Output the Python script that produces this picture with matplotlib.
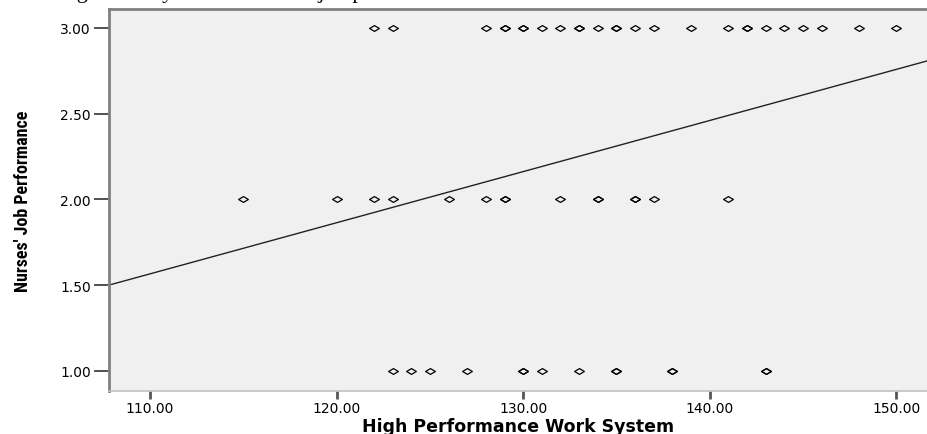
import numpy as np
import matplotlib.pyplot as plt
from matplotlib.path import Path
from matplotlib import font_manager

# HPWS scores per job performance level (repeats = overlapping points)
hpws_high = [122, 123, 128, 129, 129, 130, 130, 131, 132, 133, 133, 134, 135, 135,
             136, 137, 139, 141, 142, 142, 143, 144, 145, 146, 148, 150]
hpws_mid = [115, 120, 122, 123, 126, 128, 129, 129, 132, 134, 134, 136, 136, 137, 141]
hpws_low = [123, 124, 125, 127, 130, 130, 131, 133, 135, 135, 138, 138, 143, 143]

perf_high = [3.0] * len(hpws_high)
perf_mid = [2.0] * len(hpws_mid)
perf_low = [1.0] * len(hpws_low)

# fit line
fit_intercept = -1.712
fit_slope = 0.0298

x_ticks = [110, 120, 130, 140, 150]
y_ticks = [1.0, 1.5, 2.0, 2.5, 3.0]

names = {f.name for f in font_manager.fontManager.ttflist}
narrow = [n for n in ['Liberation Sans Narrow', 'DejaVu Sans Condensed', 'Roboto Condensed']
          if n in names]

W, H = 928, 435
fig = plt.figure(figsize=(W / 100, H / 100), dpi=100)
ax = fig.add_axes([109 / W, 1 - 392 / H, 1 - 109 / W, (392 - 10) / H])
ax.set_facecolor('#f0f0f0')

diamond = Path([(-1, 0), (0, 0.6), (1, 0), (0, -0.6), (-1, 0)],
               [Path.MOVETO, Path.LINETO, Path.LINETO, Path.LINETO, Path.CLOSEPOLY])

x_all = hpws_high + hpws_mid + hpws_low
y_all = perf_high + perf_mid + perf_low
ax.plot(x_all, y_all, linestyle='none', marker=diamond, markersize=7,
        markerfacecolor='none', markeredgecolor='black', markeredgewidth=0.9)

xlim = (107.8, 151.7)
xs = np.array(xlim)
ax.plot(xs, fit_intercept + fit_slope * xs, color='#222222', linewidth=1.0)

ax.set_xlim(*xlim)
ax.set_ylim(0.883, 3.11)

ax.set_xticks(x_ticks)
ax.set_xticklabels([f'{v:.2f}' for v in x_ticks], fontsize=10)
ax.set_yticks(y_ticks)
ax.set_yticklabels([f'{v:.2f}' for v in y_ticks], fontsize=10)
ax.tick_params(axis='y', direction='out', length=11, width=1.2, color='#333333', pad=2)
ax.tick_params(axis='x', direction='out', length=6, width=2, color='#555555', pad=1)

for s in ['left', 'top']:
    ax.spines[s].set_color('#808080')
    ax.spines[s].set_linewidth(2)
ax.spines['bottom'].set_color('#c0c0c0')
ax.spines['bottom'].set_linewidth(1.2)
ax.spines['right'].set_visible(False)

ax.set_xlabel('High Performance Work System', fontsize=12.5, fontweight='bold', labelpad=2)
ax.set_ylabel("Nurses' Job Performance", fontsize=13, fontweight='bold',
              family=narrow + ['DejaVu Sans'], labelpad=20)

# caption of the page above, cut off at the top edge
fig.text(470 / W, 1 + 2 / H, 'significantly correlated with job performance.',
         ha='right', va='baseline', fontsize=16, family='Liberation Serif')

fig.savefig('out.png', dpi=100)
